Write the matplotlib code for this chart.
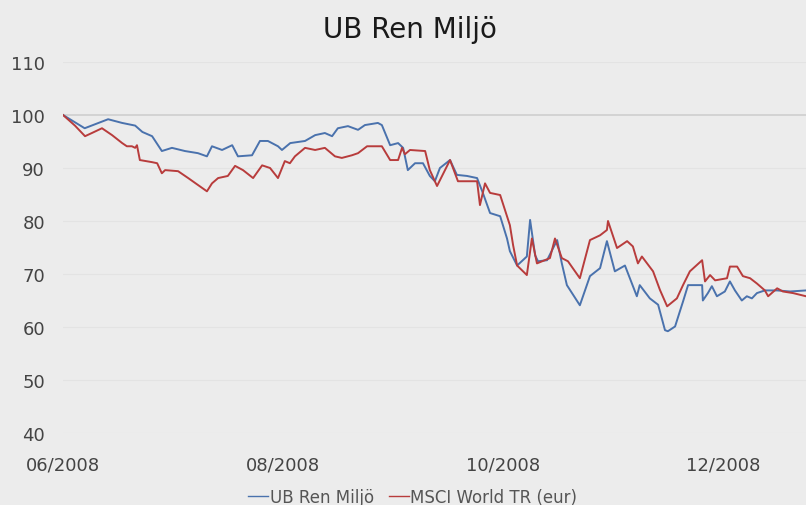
import matplotlib
matplotlib.use("Agg")
import matplotlib.pyplot as plt
import matplotlib.dates as mdates
import pandas as pd

title = "UB Ren Miljö"
series_names = ["UB Ren Miljö", "MSCI World TR (eur)"]
start_date = "2008-06-01"
end_date = "2008-12-24"

# days after 2008-06-01, index values
ub_days = [0, 6, 12.5, 16.4, 20, 22, 24.7, 27.4, 30.2, 33.8, 37.4, 39.9, 41.3, 44.1, 46.9,
           48.5, 52.4, 54.6, 56.8, 59.6, 60.7, 63, 67.1, 69.9, 72.6, 74.6, 76.2, 79, 81.8,
           83.7, 87.3, 88.4, 90.7, 92.9, 94.3, 95.6, 97.6, 99.8, 101.7, 103.1, 104.5, 107.3,
           109.2, 112, 114.8, 116.4, 118.4, 121.2, 123.1, 123.9, 125.9, 128.6, 129.5, 130.9,
           131.7, 134.2, 137, 138.3, 139.7, 143.3, 146.1, 148.9, 150.8, 153, 155.8, 159.1,
           159.9, 162.7, 165, 166.9, 167.7, 169.7, 171.1, 171.9, 173.3, 177.2, 177.4, 178.8,
           179.9, 181.3, 183.5, 184.9, 186.3, 188.2, 189.6, 191, 192.4, 194.6, 198, 201.6, 206]
ub_vals = [100, 97.5, 99.2, 98.5, 98, 96.8, 96, 93.2, 93.8, 93.2, 92.8, 92.2, 94.1, 93.4, 94.3,
           92.2, 92.4, 95.1, 95.1, 94.1, 93.4, 94.7, 95.1, 96.2, 96.6, 96, 97.5, 97.9, 97.2,
           98.1, 98.5, 98.1, 94.3, 94.7, 93.8, 89.6, 90.9, 90.9, 88.5, 87.5, 90, 91.5,
           88.7, 88.5, 88.1, 85.3, 81.5, 80.9, 76.7, 74.3, 71.6, 73.3, 80.2, 73.5,
           72.4, 72.6, 76.4, 72, 67.9, 64.1, 69.6, 71.1, 76.2, 70.5, 71.6, 65.8,
           67.9, 65.4, 64.2, 59.4, 59.2, 60.1, 63.1, 64.8, 67.9, 67.9, 65, 66.4,
           67.7, 65.8, 66.7, 68.6, 66.9, 65, 65.8, 65.4, 66.4, 66.9, 66.9, 66.7, 66.9]

msci_days = [0, 3.3, 6.1, 8, 10.8, 13.6, 16.4, 17.7, 19.1, 20, 20.5, 21.3, 24.7, 26.1, 27.4,
             28.3, 31.9, 34.7, 37.4, 39.9, 41.3, 43, 45.7, 47.7, 49.9, 52.7, 55.2, 57.4, 59.6,
             61.5, 62.9, 64.3, 67.1, 69.9, 72.6, 75.4, 77.3, 80.1, 81.8, 84.3, 88.4, 90.7,
             92.9, 94, 94.8, 96.2, 100.4, 101.7, 103.7, 107.3, 109.5, 114.8, 115.6, 117,
             118.4, 121.2, 123.9, 124.8, 125.9, 128.6, 130, 131.4, 135, 136.4, 138.3, 140,
             143.3, 146.1, 148.9, 150.8, 151.1, 153.6, 156.4, 158, 159.4, 160.5, 163.6, 165.5,
             167.5, 170.2, 171.9, 173.8, 177.2, 178, 179.4, 180.8, 184.1, 184.9, 186.9, 188.5,
             190.5, 192.4, 194.6, 195.5, 198, 199.6, 202.4, 206]
msci_vals = [100, 98, 96, 96.6, 97.5, 96.2, 94.7, 94.1, 94.1, 93.8, 94.3, 91.5, 91.1, 90.9, 89,
             89.6, 89.4, 88.1, 86.8, 85.6, 87.1, 88.1, 88.5, 90.4, 89.6, 88.1, 90.5, 90, 88.1,
             91.3, 90.9, 92.2, 93.8, 93.4, 93.8, 92.2, 91.9, 92.4, 92.8, 94.1, 94.1, 91.5,
             91.5, 93.8, 92.6, 93.4, 93.2, 89.6, 86.6, 91.5, 87.5, 87.5, 83, 87.1,
             85.3, 84.9, 79.2, 75.4, 71.6, 69.8, 76.7, 72, 73, 76.7, 73, 72.4,
             69.2, 76.4, 77.3, 78.3, 80, 74.9, 76.2, 75.2, 72, 73.3, 70.5, 67,
             63.9, 65.4, 67.9, 70.5, 72.6, 68.6, 69.8, 68.8, 69.2, 71.4, 71.4, 69.6,
             69.2, 68.2, 66.9, 65.8, 67.3, 66.7, 66.4, 65.8]

y_ticks = [40, 50, 60, 70, 80, 90, 100, 110]

base = pd.Timestamp(start_date)
ub_dates = base + pd.to_timedelta(ub_days, unit="D")
msci_dates = base + pd.to_timedelta(msci_days, unit="D")

bg = "#ececec"
fig = plt.figure(figsize=(8.06, 5.06), dpi=100, facecolor=bg)
ax = fig.add_axes([0.0782, 0.1423, 0.9218, 0.7332], facecolor=bg)

ax.plot(ub_dates, ub_vals, color="#4a72ad", lw=1.4, label=series_names[0], zorder=3)
ax.plot(msci_dates, msci_vals, color="#b83c3c", lw=1.4, label=series_names[1], zorder=3)

ax.set_ylim(40, 110)
ax.set_xlim(base, pd.Timestamp(end_date))
ax.set_yticks(y_ticks)
for v in y_ticks:
    ax.axhline(v, color="#cfcfcf" if v == 100 else "#e3e3e3", lw=1.2 if v == 100 else 0.8, zorder=1)

ax.xaxis.set_major_locator(mdates.MonthLocator(bymonth=[6, 8, 10, 12]))
ax.xaxis.set_major_formatter(mdates.DateFormatter("%m/%Y"))
ax.tick_params(axis="both", length=0, labelsize=13, colors="#444444")
ax.tick_params(axis="x", pad=16)
ax.tick_params(axis="y", pad=13)
for lab in ax.get_xticklabels():
    lab.set_horizontalalignment("center")
for s in ax.spines.values():
    s.set_visible(False)

fig.text(0.509, 0.94, title, ha="center", va="center", fontsize=20, color="#1a1a1a")

leg = fig.legend(loc="center", bbox_to_anchor=(0.512, 0.016), ncol=2, frameon=False,
                 fontsize=12, handlelength=1.2, handletextpad=0.1, columnspacing=0.9,
                 labelcolor="#555555")
for line in leg.get_lines():
    line.set_linewidth(1.0)

fig.savefig("out.png", dpi=100, facecolor=bg)
